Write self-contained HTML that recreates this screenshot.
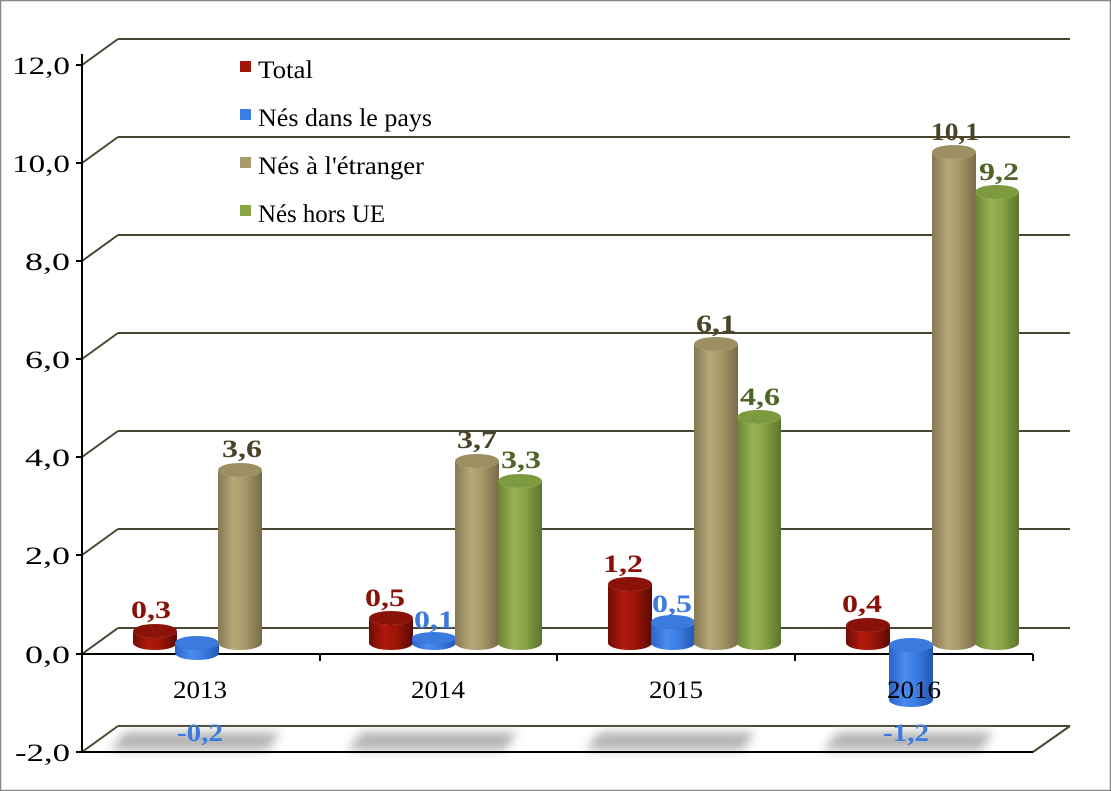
<!DOCTYPE html>
<html><head><meta charset="utf-8"><style>
html,body{margin:0;padding:0;background:#fff}
svg{display:block;font-family:"Liberation Serif",serif}
</style></head><body>
<svg width="1111" height="791" viewBox="0 0 1111 791" xmlns="http://www.w3.org/2000/svg">
<defs>
<linearGradient id="gr" x1="0" x2="1"><stop offset="0" stop-color="#6e0d05"/><stop offset="0.35" stop-color="#b01a0c"/><stop offset="0.6" stop-color="#a01508"/><stop offset="1" stop-color="#5a0a04"/></linearGradient>
<linearGradient id="gb" x1="0" x2="1"><stop offset="0" stop-color="#2a62c8"/><stop offset="0.35" stop-color="#4a8cf0"/><stop offset="0.6" stop-color="#3d7ee6"/><stop offset="1" stop-color="#2456b0"/></linearGradient>
<linearGradient id="gt" x1="0" x2="1"><stop offset="0" stop-color="#857955"/><stop offset="0.35" stop-color="#b5a776"/><stop offset="0.6" stop-color="#a89a6a"/><stop offset="1" stop-color="#776b48"/></linearGradient>
<linearGradient id="gg" x1="0" x2="1"><stop offset="0" stop-color="#6a8433"/><stop offset="0.35" stop-color="#98b153"/><stop offset="0.6" stop-color="#8aa547"/><stop offset="1" stop-color="#5c742b"/></linearGradient>
<filter id="bl" x="-20%" y="-100%" width="140%" height="300%"><feGaussianBlur stdDeviation="5"/></filter>
</defs>
<rect x="0.5" y="0.5" width="1110" height="790" fill="#fff" stroke="#888" stroke-width="1.5"/>
<g stroke="#4a4530" stroke-width="2" fill="none">
<line x1="118" y1="39" x2="1070" y2="39"/><line x1="82" y1="65" x2="118" y2="39"/>
<line x1="118" y1="137" x2="1070" y2="137"/><line x1="82" y1="163" x2="118" y2="137"/>
<line x1="118" y1="235" x2="1070" y2="235"/><line x1="82" y1="261" x2="118" y2="235"/>
<line x1="118" y1="333" x2="1070" y2="333"/><line x1="82" y1="359" x2="118" y2="333"/>
<line x1="118" y1="431" x2="1070" y2="431"/><line x1="82" y1="457" x2="118" y2="431"/>
<line x1="118" y1="529" x2="1070" y2="529"/><line x1="82" y1="555" x2="118" y2="529"/>
<line x1="118" y1="628" x2="1070" y2="628"/><line x1="82" y1="654" x2="118" y2="628"/>
<line x1="118" y1="726" x2="1070" y2="726"/><line x1="82" y1="752" x2="118" y2="726"/>
<line x1="1033" y1="752" x2="1070" y2="726"/>
</g>
<g fill="#b4b4b4" filter="url(#bl)">
<polygon points="125,732 280,732 268,750 110,750"/>
<polygon points="362,732 517,732 505,750 347,750"/>
<polygon points="600,732 755,732 743,750 585,750"/>
<polygon points="838,732 993,732 981,750 823,750"/>
</g>
<g stroke="#000" stroke-width="2">
<line x1="82" y1="54" x2="82" y2="752"/>
<line x1="82" y1="654" x2="1033" y2="654"/>
<line x1="82" y1="752" x2="1033" y2="752"/>
<line x1="76" y1="65" x2="82" y2="65"/><line x1="76" y1="163" x2="82" y2="163"/><line x1="76" y1="261" x2="82" y2="261"/><line x1="76" y1="359" x2="82" y2="359"/><line x1="76" y1="457" x2="82" y2="457"/><line x1="76" y1="555" x2="82" y2="555"/><line x1="76" y1="654" x2="82" y2="654"/><line x1="76" y1="752" x2="82" y2="752"/>
<line x1="320" y1="654" x2="320" y2="661"/><line x1="557" y1="654" x2="557" y2="661"/><line x1="795" y1="654" x2="795" y2="661"/><line x1="1033" y1="654" x2="1033" y2="661"/>
</g>
<g font-size="25" text-anchor="end" fill="#000">
<text x="70" y="74" textLength="58" lengthAdjust="spacingAndGlyphs">12,0</text><text x="70" y="172" textLength="58" lengthAdjust="spacingAndGlyphs">10,0</text><text x="70" y="270" textLength="45" lengthAdjust="spacingAndGlyphs">8,0</text><text x="70" y="368" textLength="45" lengthAdjust="spacingAndGlyphs">6,0</text><text x="70" y="466" textLength="45" lengthAdjust="spacingAndGlyphs">4,0</text><text x="70" y="564" textLength="45" lengthAdjust="spacingAndGlyphs">2,0</text><text x="70" y="663" textLength="45" lengthAdjust="spacingAndGlyphs">0,0</text><text x="70" y="761" textLength="55" lengthAdjust="spacingAndGlyphs">-2,0</text>
</g>
<g>
<path d="M133 643 v-12 a22 7 0 0 0 44 0 v12 a22 7 0 0 1 -44 0z" fill="url(#gr)"/><ellipse cx="155" cy="631" rx="22" ry="7" fill="#8a1208"/>
<path d="M175 643 v10 a22 7 0 0 0 44 0 v-10z" fill="url(#gb)"/><ellipse cx="197" cy="643" rx="22" ry="7" fill="#3b7be0"/>
<path d="M218 643 V470 a22 7 0 0 0 44 0 V643 a22 7 0 0 1 -44 0z" fill="url(#gt)"/><ellipse cx="240" cy="470" rx="22" ry="7" fill="#9c8f62"/>
<path d="M369 643 V618 a22 7 0 0 0 44 0 V643 a22 7 0 0 1 -44 0z" fill="url(#gr)"/><ellipse cx="391" cy="618" rx="22" ry="7" fill="#8a1208"/>
<path d="M412 643 v-5 h44 v5 a22 7 0 0 1 -44 0z" fill="url(#gb)"/><ellipse cx="434" cy="638" rx="22" ry="6" fill="#3b7be0"/>
<path d="M455 643 V461 a22 7 0 0 0 44 0 V643 a22 7 0 0 1 -44 0z" fill="url(#gt)"/><ellipse cx="477" cy="461" rx="22" ry="7" fill="#9c8f62"/>
<path d="M498 643 V481 a22 7 0 0 0 44 0 V643 a22 7 0 0 1 -44 0z" fill="url(#gg)"/><ellipse cx="520" cy="481" rx="22" ry="7" fill="#7d9a3f"/>
<path d="M608 643 V584 a22 7 0 0 0 44 0 V643 a22 7 0 0 1 -44 0z" fill="url(#gr)"/><ellipse cx="630" cy="584" rx="22" ry="7" fill="#8a1208"/>
<path d="M651 643 V622 a22 7 0 0 0 44 0 V643 a22 7 0 0 1 -44 0z" fill="url(#gb)"/><ellipse cx="673" cy="622" rx="22" ry="7" fill="#3b7be0"/>
<path d="M694 643 V344 a22 7 0 0 0 44 0 V643 a22 7 0 0 1 -44 0z" fill="url(#gt)"/><ellipse cx="716" cy="344" rx="22" ry="7" fill="#9c8f62"/>
<path d="M737 643 V417 a22 7 0 0 0 44 0 V643 a22 7 0 0 1 -44 0z" fill="url(#gg)"/><ellipse cx="759" cy="417" rx="22" ry="7" fill="#7d9a3f"/>
<path d="M846 643 V625 a22 7 0 0 0 44 0 V643 a22 7 0 0 1 -44 0z" fill="url(#gr)"/><ellipse cx="868" cy="625" rx="22" ry="7" fill="#8a1208"/>
<path d="M889 645 V700 a22 7 0 0 0 44 0 V645z" fill="url(#gb)"/><ellipse cx="911" cy="645" rx="22" ry="7" fill="#3b7be0"/>
<path d="M932 643 V152 a22 7 0 0 0 44 0 V643 a22 7 0 0 1 -44 0z" fill="url(#gt)"/><ellipse cx="954" cy="152" rx="22" ry="7" fill="#9c8f62"/>
<path d="M975 643 V192 a22 7 0 0 0 44 0 V643 a22 7 0 0 1 -44 0z" fill="url(#gg)"/><ellipse cx="997" cy="192" rx="22" ry="7" fill="#7d9a3f"/>
</g>
<g font-size="25" text-anchor="middle" fill="#000">
<text x="200" y="698" textLength="54" lengthAdjust="spacingAndGlyphs">2013</text><text x="438" y="698" textLength="54" lengthAdjust="spacingAndGlyphs">2014</text><text x="676" y="698" textLength="54" lengthAdjust="spacingAndGlyphs">2015</text><text x="914" y="698" textLength="54" lengthAdjust="spacingAndGlyphs">2016</text>
</g>
<g font-size="25" font-weight="bold" text-anchor="middle">
<text x="151" y="618" fill="#8b1108" textLength="40" lengthAdjust="spacingAndGlyphs">0,3</text>
<text x="200" y="741" fill="#3b7be0" textLength="46" lengthAdjust="spacingAndGlyphs">-0,2</text>
<text x="242" y="457" fill="#4a4428" textLength="40" lengthAdjust="spacingAndGlyphs">3,6</text>
<text x="385" y="606" fill="#8b1108" textLength="40" lengthAdjust="spacingAndGlyphs">0,5</text>
<text x="434" y="628" fill="#3b7be0" textLength="40" lengthAdjust="spacingAndGlyphs">0,1</text>
<text x="477" y="448" fill="#4a4428" textLength="40" lengthAdjust="spacingAndGlyphs">3,7</text>
<text x="521" y="468" fill="#4f6428" textLength="40" lengthAdjust="spacingAndGlyphs">3,3</text>
<text x="623" y="572" fill="#8b1108" textLength="40" lengthAdjust="spacingAndGlyphs">1,2</text>
<text x="672" y="612" fill="#3b7be0" textLength="40" lengthAdjust="spacingAndGlyphs">0,5</text>
<text x="716" y="332" fill="#4a4428" textLength="40" lengthAdjust="spacingAndGlyphs">6,1</text>
<text x="760" y="405" fill="#4f6428" textLength="40" lengthAdjust="spacingAndGlyphs">4,6</text>
<text x="862" y="612" fill="#8b1108" textLength="40" lengthAdjust="spacingAndGlyphs">0,4</text>
<text x="906" y="741" fill="#3b7be0" textLength="46" lengthAdjust="spacingAndGlyphs">-1,2</text>
<text x="955" y="140" fill="#4a4428" textLength="48" lengthAdjust="spacingAndGlyphs">10,1</text>
<text x="999" y="180" fill="#4f6428" textLength="40" lengthAdjust="spacingAndGlyphs">9,2</text>
</g>
<g font-size="25">
<rect x="240" y="61" width="11" height="11" fill="#a01508"/><text x="258" y="78" textLength="55" lengthAdjust="spacingAndGlyphs">Total</text>
<rect x="240" y="109" width="11" height="11" fill="#3d7ee6"/><text x="258" y="126" textLength="174" lengthAdjust="spacingAndGlyphs">Nés dans le pays</text>
<rect x="240" y="157" width="11" height="11" fill="#a89a6a"/><text x="258" y="174" textLength="166" lengthAdjust="spacingAndGlyphs">Nés à l'étranger</text>
<rect x="240" y="205" width="11" height="11" fill="#8aa547"/><text x="258" y="222" textLength="127" lengthAdjust="spacingAndGlyphs">Nés hors UE</text>
</g>
</svg>
</body></html>
